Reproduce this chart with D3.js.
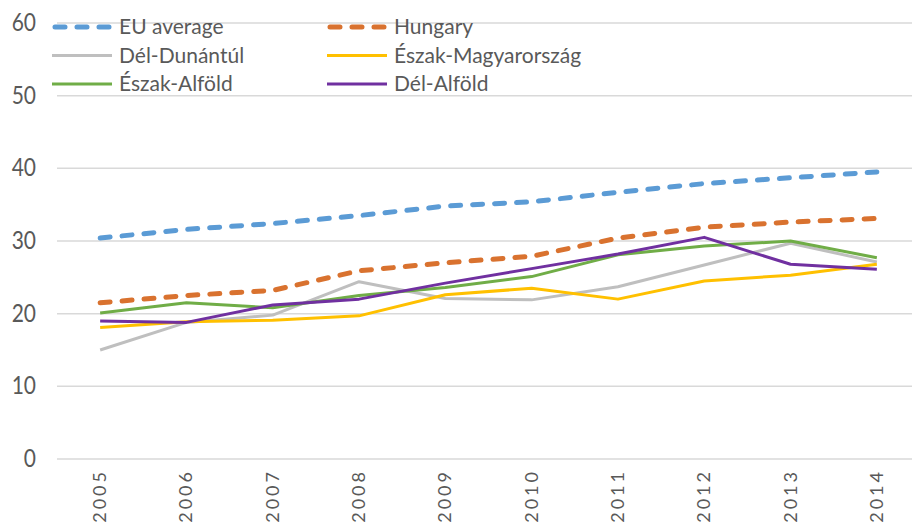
<!DOCTYPE html>
<html>
<head>
<meta charset="utf-8">
<script src="https://cdn.jsdelivr.net/npm/d3@7"></script>
<style>
  body { margin: 0; background: #fff; }
  text { font-family: Lato, "Open Sans", sans-serif; fill: #595959; }
</style>
</head>
<body>
<div id="chart"></div>
<script>
var years = ['2005', '2006', '2007', '2008', '2009', '2010', '2011', '2012', '2013', '2014'];
var yTicks = [0, 10, 20, 30, 40, 50, 60];

var euAverage = [30.4, 31.6, 32.4, 33.5, 34.8, 35.4, 36.7, 37.9, 38.7, 39.5];
var hungary = [21.5, 22.5, 23.2, 25.9, 27.0, 27.9, 30.4, 31.9, 32.6, 33.1];
var delDunantul = [15.0, 18.8, 19.8, 24.4, 22.1, 21.9, 23.7, 26.7, 29.7, 27.1];
var eszakMagyarorszag = [18.1, 18.9, 19.1, 19.7, 22.6, 23.5, 22.0, 24.5, 25.3, 26.8];
var eszakAlfold = [20.1, 21.5, 20.8, 22.5, 23.6, 25.1, 28.1, 29.3, 30.0, 27.7];
var delAlfold = [19.0, 18.8, 21.2, 22.0, 24.2, 26.2, 28.2, 30.5, 26.8, 26.1];

var series = [
  { name: 'EU average', values: euAverage, color: '#5B9BD5', dashed: true },
  { name: 'Hungary', values: hungary, color: '#D9722F', dashed: true },
  { name: 'Dél-Dunántúl', values: delDunantul, color: '#BFBFBF', dashed: false },
  { name: 'Észak-Magyarország', values: eszakMagyarorszag, color: '#FFC000', dashed: false },
  { name: 'Észak-Alföld', values: eszakAlfold, color: '#70AD47', dashed: false },
  { name: 'Dél-Alföld', values: delAlfold, color: '#7030A0', dashed: false }
];
// draw order: regions first, averages on top
var drawOrder = [2, 3, 4, 5, 1, 0];

var w = 912, h = 522;

var svg = d3.select('#chart').
append('svg').
attr('width', w).
attr('height', h);

var x = d3.scaleBand().
domain(years).
range([57, 920]);

var y = d3.scaleLinear().
domain([0, 60]).
range([459, 23]);

// gridlines
svg.append('g').
selectAll('line').
data(yTicks).
enter().
append('line').
attr('x1', 57).
attr('x2', w).
attr('y1', d => y(d)).
attr('y2', d => y(d)).
attr('stroke', '#d9d9d9').
attr('stroke-width', 1.5);

// y labels
svg.append('g').
selectAll('text').
data(yTicks).
enter().
append('text').
attr('text-anchor', 'end').
attr('transform', d => 'translate(36,' + (y(d) + 8) + ') scale(1,1.15)').
style('font-size', '21px').
text(d => d);

// x labels
svg.append('g').
selectAll('text').
data(years).
enter().
append('text').
attr('text-anchor', 'end').
attr('transform', d => 'translate(' + (x(d) + x.bandwidth() / 2 + 6) + ',469) rotate(-90)').
style('font-size', '18px').
style('letter-spacing', '3px').
text(d => d);

var line = d3.line().
x((d, i) => x(years[i]) + x.bandwidth() / 2).
y(d => y(d));

function styleLine(sel, s) {
  sel.attr('fill', 'none').
  attr('stroke', s.color).
  attr('stroke-width', s.dashed ? 5 : 3).
  attr('stroke-linejoin', 'round').
  attr('stroke-linecap', s.dashed ? 'round' : 'butt').
  attr('stroke-dasharray', s.dashed ? '10,12' : null);
}

drawOrder.forEach(function (i) {
  var s = series[i];
  svg.append('path').
  datum(s.values).
  attr('d', line).
  call(styleLine, s);
});

// legend
var legend = svg.append('g');
series.forEach(function (s, i) {
  var lx = i % 2 === 0 ? 52 : 327;
  var ly = 27 + Math.floor(i / 2) * 28.5;
  var g = legend.append('g').attr('transform', 'translate(' + lx + ',' + ly + ')');
  g.append('line').
  attr('x1', s.dashed ? 3 : 0).
  attr('x2', 60).
  attr('y1', 0).
  attr('y2', 0).
  call(styleLine, s);
  g.append('text').
  attr('x', 67).
  attr('y', 7).
  style('font-size', '21px').
  text(s.name);
});
</script>
</body>
</html>
